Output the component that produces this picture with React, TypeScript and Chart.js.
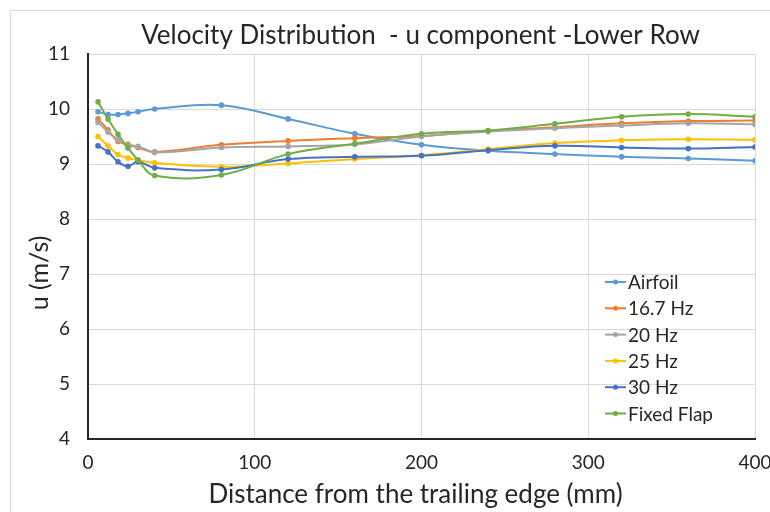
import React, { useEffect, useRef } from "react";
import { Chart, registerables } from "chart.js";

Chart.register(...registerables);

// Stations behind the trailing edge (mm)
const distances = [6, 12, 18, 24, 30, 40, 80, 120, 160, 200, 240, 280, 320, 360, 400];

// Streamwise velocity u (m/s) at each station
const airfoil = [9.95, 9.9, 9.9, 9.92, 9.95, 10.0, 10.07, 9.82, 9.55, 9.35, 9.24, 9.18, 9.13, 9.1, 9.06];
const hz16_7 = [9.82, 9.62, 9.41, 9.36, 9.3, 9.22, 9.35, 9.42, 9.47, 9.51, 9.6, 9.67, 9.74, 9.78, 9.79];
const hz20 = [9.76, 9.58, 9.44, 9.33, 9.32, 9.21, 9.3, 9.32, 9.36, 9.5, 9.59, 9.65, 9.7, 9.74, 9.72];
const hz25 = [9.5, 9.33, 9.17, 9.11, 9.07, 9.02, 8.95, 9.01, 9.09, 9.16, 9.27, 9.38, 9.43, 9.45, 9.44];
const hz30 = [9.33, 9.22, 9.04, 8.96, 9.04, 8.93, 8.9, 9.09, 9.13, 9.15, 9.25, 9.33, 9.3, 9.28, 9.31];
const fixedFlap = [10.13, 9.82, 9.54, 9.29, 9.07, 8.79, 8.8, 9.18, 9.37, 9.55, 9.61, 9.73, 9.86, 9.91, 9.86];

const seriesNames = ["Airfoil", "16.7 Hz", "20 Hz", "25 Hz", "30 Hz", "Fixed Flap"];
const seriesValues = [airfoil, hz16_7, hz20, hz25, hz30, fixedFlap];
const seriesColors = ["#5B9BD5", "#ED7D31", "#A5A5A5", "#FFC000", "#4472C4", "#70AD47"];

const chartTitle = "Velocity Distribution  - u component -Lower Row";
const xTitle = "Distance from the trailing edge (mm)";
const yTitle = "u (m/s)";

const FONT = "Lato, 'Open Sans', sans-serif";
const TEXT = "#262626";

// Light outer frame around the whole chart
const framePlugin = {
  id: "frame",
  beforeDraw(chart: any) {
    const { ctx, width, height } = chart;
    ctx.save();
    ctx.fillStyle = "#ffffff";
    ctx.fillRect(0, 0, width, height);
    ctx.strokeStyle = "#D9D9D9";
    ctx.lineWidth = 1;
    ctx.strokeRect(10.5, 10.5, width + 20, height + 20);
    ctx.restore();
  },
};

// Chart title and axis titles, centred on the plot area
const titlesPlugin = {
  id: "titles",
  afterDraw(chart: any) {
    const { ctx, chartArea } = chart;
    const cx = (chartArea.left + chartArea.right) / 2;
    ctx.save();
    ctx.fillStyle = TEXT;
    ctx.textAlign = "center";
    ctx.textBaseline = "alphabetic";
    ctx.font = `26px ${FONT}`;
    ctx.fillText(chartTitle, cx - 1, 44);
    ctx.font = `26px ${FONT}`;
    ctx.fillText(xTitle, cx - 6, 503);
    ctx.translate(40, 273);
    ctx.rotate(-Math.PI / 2);
    ctx.textBaseline = "middle";
    ctx.font = `25px ${FONT}`;
    ctx.fillText(yTitle, 0, 0);
    ctx.restore();
  },
};

// Series key placed inside the plot, lower right
const keyPlugin = {
  id: "seriesKey",
  afterDraw(chart: any) {
    const { ctx } = chart;
    const x0 = 605;
    const y0 = 282;
    const step = 26.3;
    ctx.save();
    ctx.font = `19px ${FONT}`;
    ctx.textBaseline = "middle";
    ctx.textAlign = "left";
    chart.data.datasets.forEach((ds: any, i: number) => {
      const y = y0 + i * step;
      ctx.strokeStyle = ds.borderColor;
      ctx.lineWidth = 2;
      ctx.beginPath();
      ctx.moveTo(x0, y);
      ctx.lineTo(x0 + 21, y);
      ctx.stroke();
      ctx.fillStyle = ds.borderColor;
      ctx.beginPath();
      ctx.arc(x0 + 10.5, y, 2.5, 0, Math.PI * 2);
      ctx.fill();
      ctx.fillStyle = TEXT;
      ctx.fillText(ds.label, x0 + 23, y + 1);
    });
    ctx.restore();
  },
};

export default function App() {
  const canvasRef = useRef<HTMLCanvasElement | null>(null);

  useEffect(() => {
    const canvas = canvasRef.current;
    if (!canvas) return;
    const chart = new Chart(canvas, {
      type: "line",
      data: {
        datasets: seriesNames.map((name, i) => ({
          label: name,
          data: distances.map((d, j) => ({ x: d, y: seriesValues[i][j] })),
          borderColor: seriesColors[i],
          backgroundColor: seriesColors[i],
          borderWidth: 2,
          pointRadius: 2.8,
          pointBorderWidth: 0,
          tension: 0.4,
          fill: false,
          order: seriesNames.length - i,
        })),
      },
      options: {
        responsive: false,
        animation: false,
        layout: { padding: { left: 0, right: 15, top: 54, bottom: 0 } },
        plugins: {
          legend: { display: false },
          tooltip: { enabled: false },
          title: { display: false },
        },
        scales: {
          x: {
            type: "linear",
            min: 0,
            max: 400,
            ticks: {
              stepSize: 100,
              color: TEXT,
              font: { family: FONT, size: 19 },
              padding: 12,
              maxRotation: 0,
            },
            grid: { color: "#D9D9D9", lineWidth: 1, drawTicks: false },
            border: { display: true, color: "#262626", width: 2 },
            afterFit(scale: any) {
              scale.height = 73;
              scale.paddingLeft = 0;
              scale.paddingRight = 0;
            },
          },
          y: {
            min: 4,
            max: 11,
            ticks: {
              stepSize: 1,
              color: TEXT,
              font: { family: FONT, size: 19 },
              padding: 18,
            },
            grid: { color: "#D9D9D9", lineWidth: 1, drawTicks: false },
            border: { display: true, color: "#262626", width: 2 },
            afterFit(scale: any) {
              scale.width = 88;
              scale.paddingTop = 0;
              scale.paddingBottom = 0;
            },
          },
        },
      },
      plugins: [framePlugin, titlesPlugin, keyPlugin],
    });
    return () => chart.destroy();
  }, []);

  return (
    <div style={{ position: "absolute", left: 0, top: 0, width: 770, height: 512 }}>
      <canvas ref={canvasRef} width={770} height={512} />
    </div>
  );
}
